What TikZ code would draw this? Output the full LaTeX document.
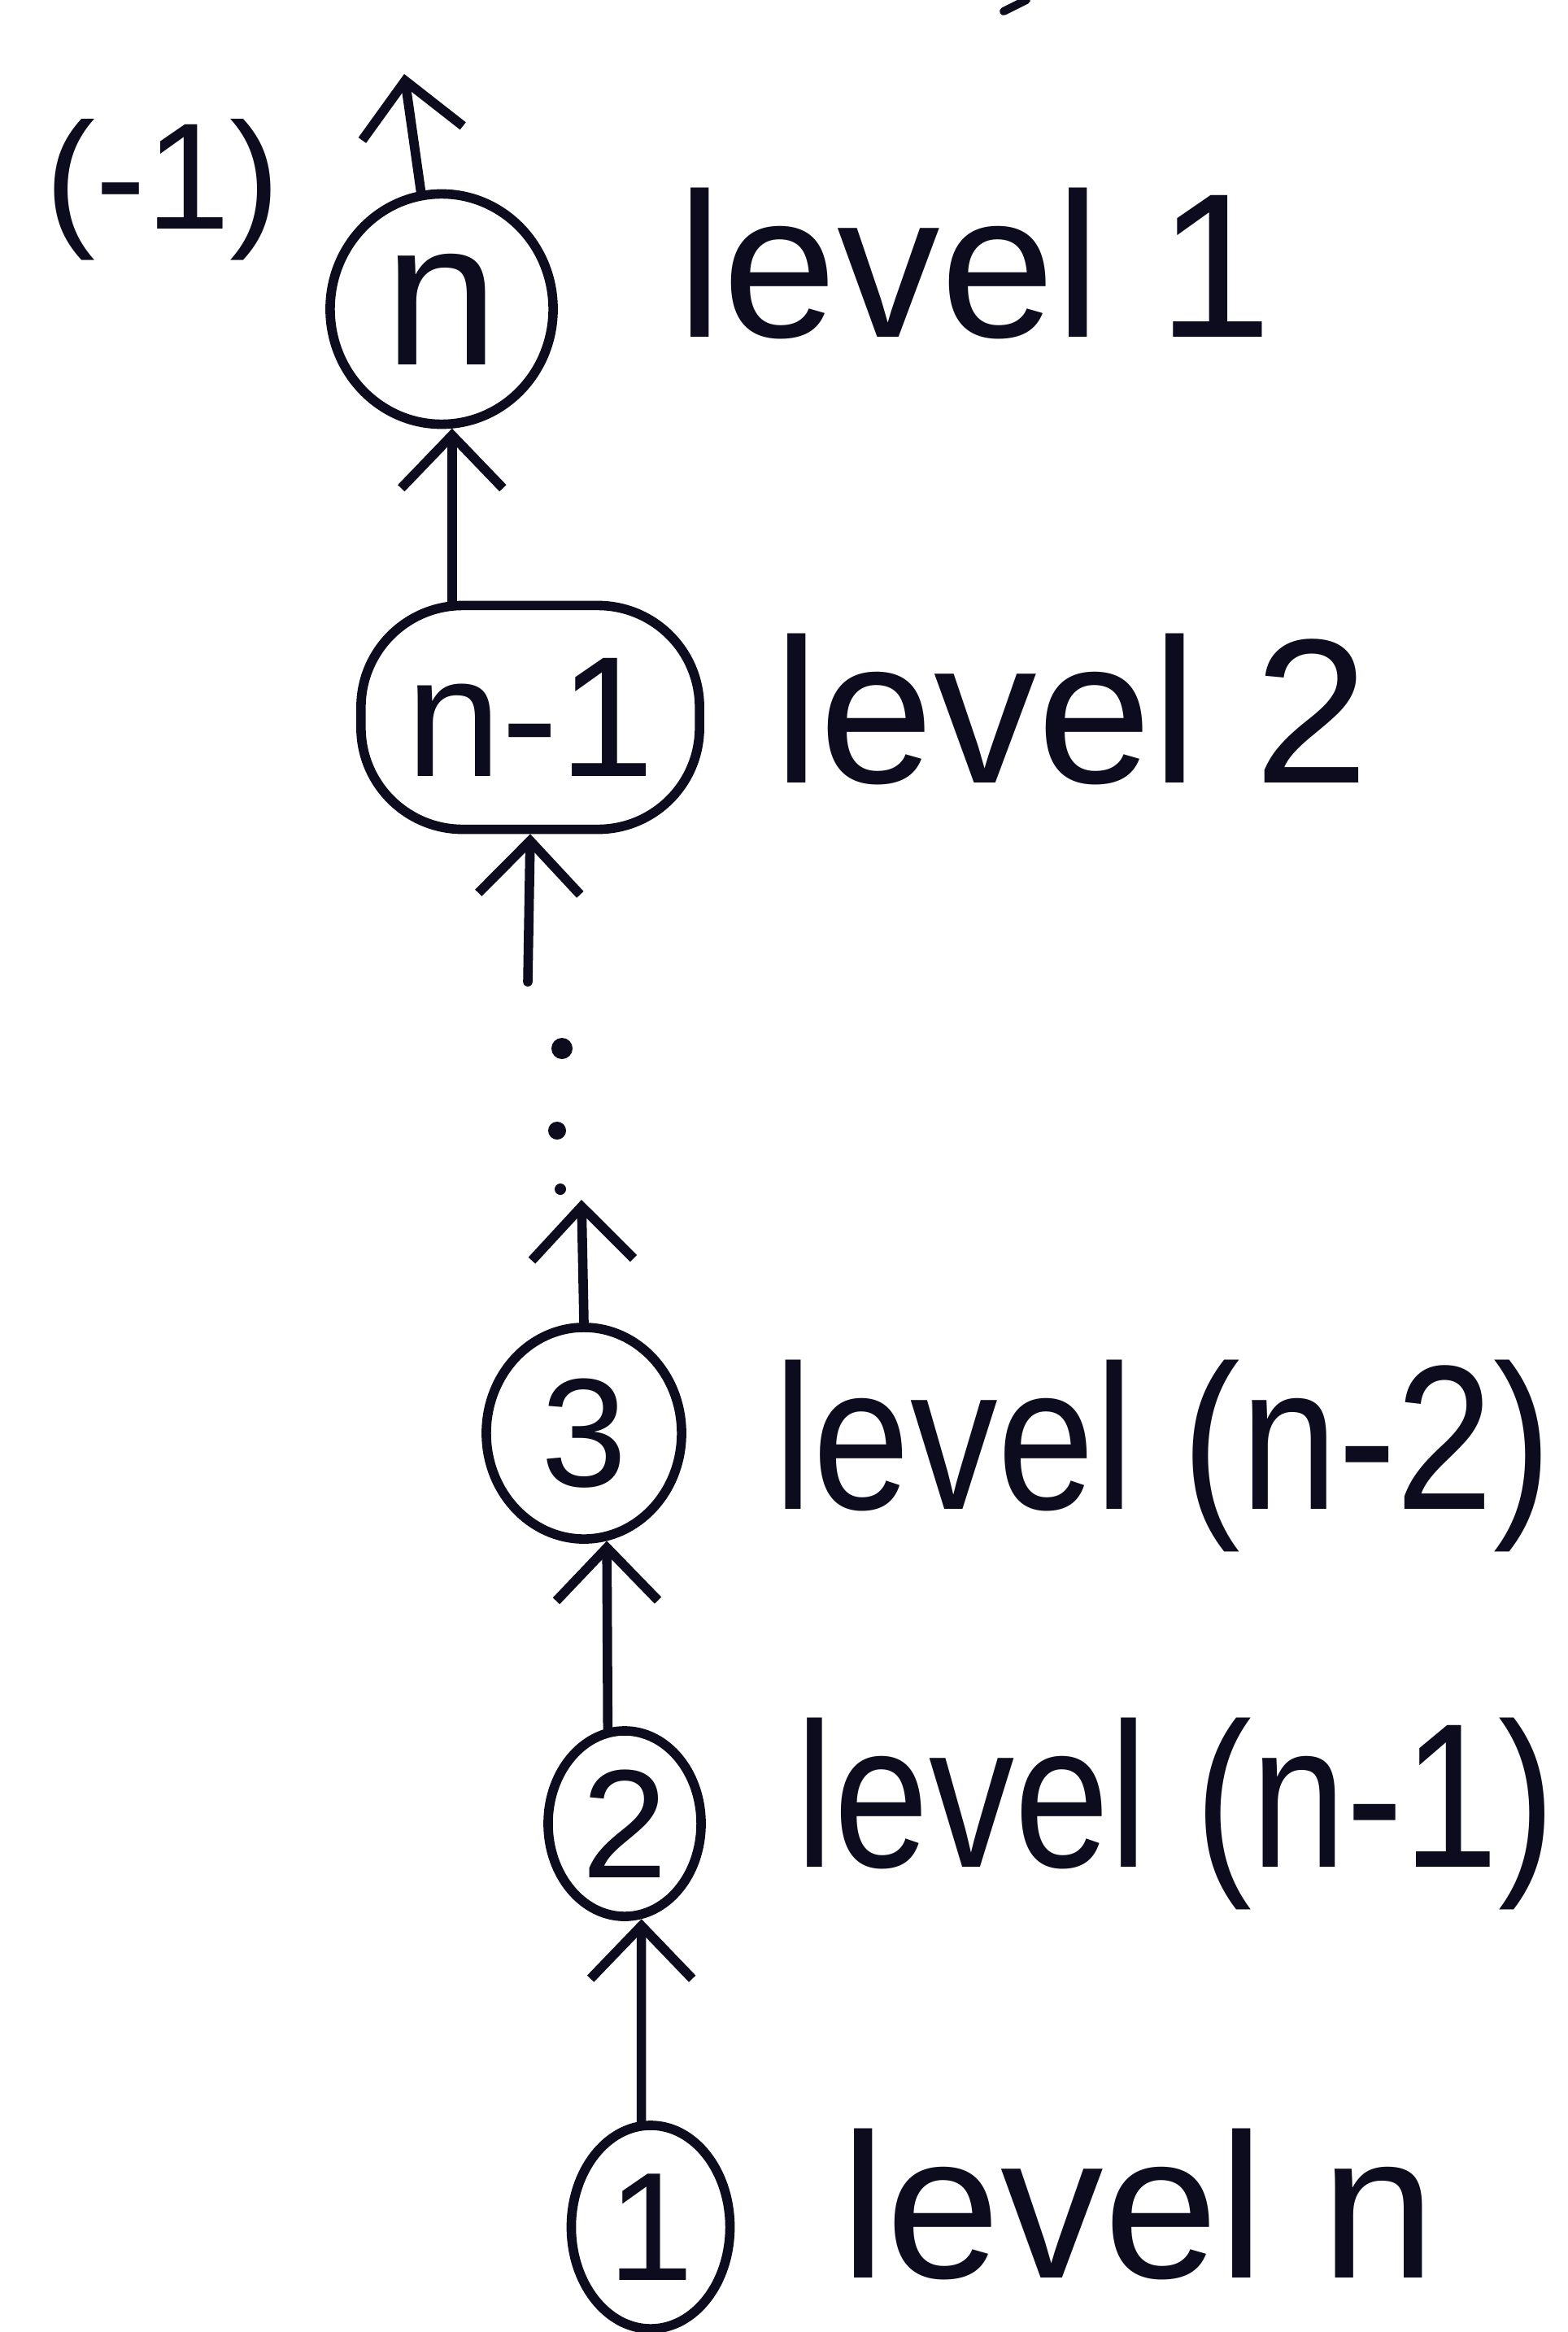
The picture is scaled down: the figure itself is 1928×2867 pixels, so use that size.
\documentclass[tikz,border=0pt]{standalone}
\usepackage{fontspec}
\usepackage{graphicx}
\setmainfont{Liberation Sans}
\usetikzlibrary{shapes.geometric,arrows.meta}
\definecolor{ink}{RGB}{12,12,30}
\begin{document}
\begin{tikzpicture}[x=0.01cm,y=-0.01cm,
  nd/.style={draw=ink, ellipse, line width=3.3pt, inner sep=0pt, text=ink, font=\fontsize{54}{60}\selectfont},
  pill/.style={draw=ink, rectangle, rounded corners=1.25cm, line width=3.3pt, inner sep=0pt, text=ink},
  lbl/.style={anchor=base west, inner sep=0pt, text=ink, font=\fontsize{72}{80}\selectfont},
  arr/.style={draw=ink, line width=3.3pt, line cap=round, -{Straight Barb[length=0.65cm,width=1.25cm]}}
]
\useasboundingbox[fill=white] (0,0) rectangle (1928,2867);
% nodes
\node[nd, minimum width=2.74cm, minimum height=2.83cm, font=\fontsize{72}{80}\selectfont] (n) at (543,380) {n};
\node[pill, minimum width=4.16cm, minimum height=2.75cm, font=\fontsize{60}{66}\selectfont] (n1) at (652,882) {n-1};
\node[nd, minimum width=2.40cm, minimum height=2.60cm] (n3) at (718,1762) {3};
\node[nd, minimum width=1.88cm, minimum height=2.28cm] (n2) at (768,2242) {2};
\node[nd, minimum width=1.95cm, minimum height=2.50cm] (n0) at (800,2738) {1};
% labels
\node[lbl] (l1) at (832,415) {level 1};
\node[lbl] (l2) at (951,962) {level 2};
\node[lbl] (l3) at (951,1855) {\scalebox{0.85}[1]{level (n-2)}};
\node[lbl] (l4) at (978,2295) {\scalebox{0.83}[1]{level (n-1)}};
\node[lbl] (l5) at (1033,2800) {level n};
\node[text=ink, inner sep=0pt, font=\fontsize{53}{60}\selectfont] (m1) at (200,233) {(-1)};
% connectors
\coordinate (top) at (497,91);
\draw[arr] (n.100) -- (top);
\draw[arr] (n1.north west -| n.-85) -- (n.-85);
\coordinate (d0) at (649,1207);
\draw[arr] (d0) -- (n1.south);
\coordinate (d3) at (715,1475);
\draw[arr] (n3.north) -- (d3);
\draw[arr] (n2.100) -- (n3.-78);
\draw[arr] (n0.95) -- (n2.-80);
% dots
\fill[ink] (691,1289) circle (0.13cm);
\fill[ink] (685,1390) circle (0.11cm);
\fill[ink] (689,1462) circle (0.07cm);
% fragment at top edge
\draw[ink, line width=2.8pt, line cap=round] (1234,14) -- (1262,0);
\end{tikzpicture}
\end{document}
